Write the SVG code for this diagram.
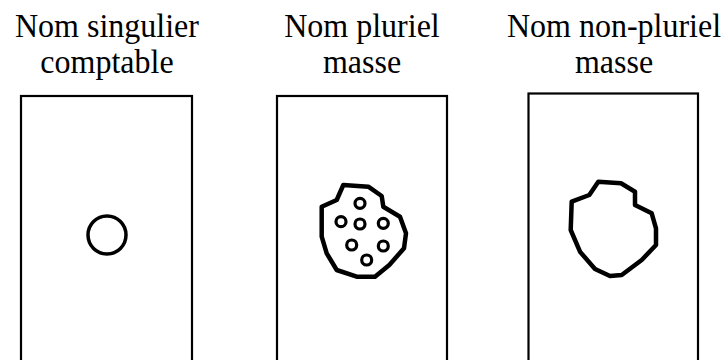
<svg xmlns="http://www.w3.org/2000/svg" width="723" height="360" viewBox="0 0 723 360">
<style>
.lbl{font-family:'Liberation Serif','Times New Roman',serif;font-size:32px;fill:#000;text-anchor:middle}
.box{fill:none;stroke:#000;stroke-width:2.2}
.blob{fill:none;stroke:#000;stroke-width:4.5;stroke-linejoin:round}
.dot{fill:none;stroke:#000;stroke-width:3.2}
</style>
<rect width="723" height="360" fill="#fff"/>
<g id="panel1">
<g transform="translate(107,0) scale(1,1.06)">
<text class="lbl" x="0" y="35">Nom singulier</text>
<text class="lbl" x="0" y="69">comptable</text>
</g>
<rect class="box" x="21" y="96" width="171" height="280"/>
<circle cx="107" cy="235" r="19" fill="none" stroke="#000" stroke-width="3.5"/>
</g>
<g id="panel2">
<g transform="translate(362,0) scale(1,1.06)">
<text class="lbl" x="0" y="35">Nom pluriel</text>
<text class="lbl" x="0" y="69">masse</text>
</g>
<rect class="box" x="277" y="96" width="170" height="280"/>
<polygon class="blob" points="343.3,185 368.3,186.7 381.7,196 383.3,206.7 400,216.7 406,233.3 404,248.3 389.3,265 375,276.7 356.7,276.7 336.7,270 326.7,253.3 321.7,236.7 321.7,206.7 336.7,200"/>
<circle class="dot" cx="360" cy="203.3" r="5"/>
<circle class="dot" cx="341" cy="221.7" r="5"/>
<circle class="dot" cx="360" cy="224" r="5"/>
<circle class="dot" cx="383.3" cy="223.3" r="5"/>
<circle class="dot" cx="351.7" cy="245" r="5"/>
<circle class="dot" cx="383.3" cy="246" r="5"/>
<circle class="dot" cx="366.7" cy="260" r="5"/>
</g>
<g id="panel3">
<g transform="translate(614,0) scale(1,1.06)">
<text class="lbl" x="0" y="35">Nom non-pluriel</text>
<text class="lbl" x="0" y="69">masse</text>
</g>
<rect class="box" x="528.5" y="93.5" width="169.5" height="283"/>
<polygon class="blob" points="598.3,181.7 621,183.3 635,191.7 635,205 651.7,213.3 656,228.3 656,245 641.7,260 621.7,275 610,276 595,269 580,251.7 570.7,230 571.7,201.7 589.3,195"/>
</g>
<g id="connectors"></g>
</svg>
